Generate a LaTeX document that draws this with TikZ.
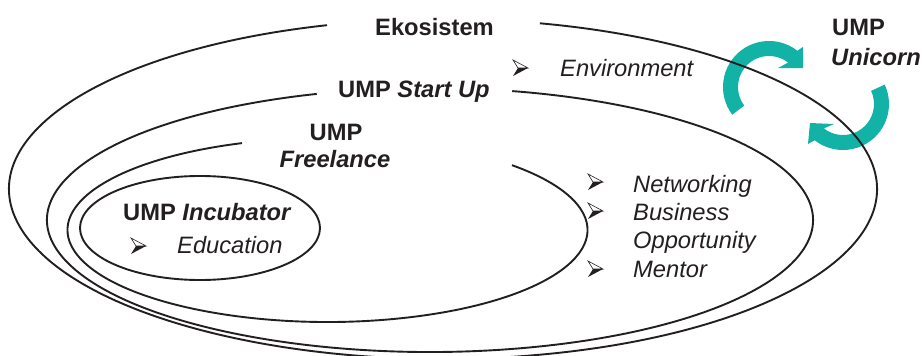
\documentclass[tikz,border=0pt]{standalone}
\usepackage{fontspec}
\setmainfont{Liberation Sans}
\definecolor{ink}{HTML}{231F20}
\definecolor{tealc}{HTML}{12B3A6}
\tikzset{
  ell/.style={draw=ink, line width=1.9pt},
  lbl/.style={inner sep=0pt, anchor=base west, font=\fontsize{23.7}{28}\selectfont, text=ink},
  bulletarrow/.pic={
    \fill[ink] (5,0) -- (15,0) -- (0,-8) -- cycle;
    \draw[ink, line width=0.6pt, line join=miter] (0,8) -- (15,0) -- (5,0) -- cycle;
  },
  cyc/.style={fill=tealc}
}
\begin{document}
\begin{tikzpicture}[x=1pt,y=1pt]
\useasboundingbox (0,0) rectangle (922,-356);

% teal cycle arrows (under the ellipse lines)
\fill[cyc] ([shift={(217:46)}]769,-87) arc[start angle=217, end angle=52, radius=46]
  -- (803,-47) -- (803,-68) -- (778,-68)
  -- ([shift={(52:31)}]769,-87) arc[start angle=52, end angle=217, radius=31] -- cycle;
\fill[cyc] ([shift={(25:46)}]843,-104) arc[start angle=25, end angle=-128, radius=46]
  -- (808,-144) -- (810,-123) -- (834,-124)
  -- ([shift={(-128:31)}]843,-104) arc[start angle=-128, end angle=25, radius=31] -- cycle;

% ellipses with gaps behind labels
\draw[ell] ([shift={(105.5:434 and 170)}]443,-189) arc[start angle=105.5, end angle=437.1, x radius=434, y radius=170];
\draw[ell] ([shift={(107.2:383 and 132)}]430,-220) arc[start angle=107.2, end angle=437.6, x radius=383, y radius=132];
\draw[ell] ([shift={(109.2:260 and 92)}]327.5,-230) arc[start angle=109.2, end angle=404.8, x radius=260, y radius=92];
\draw[ell] (200,-228) ellipse[x radius=120, y radius=52];

% labels
\node[lbl] (eko) at (375,-35) {\textbf{Ekosistem}};
\node[lbl] (startup) at (338,-97) {\textbf{UMP \textit{Start Up}}};
\node[lbl, anchor=base] (free1) at (336,-140) {\textbf{UMP}};
\node[lbl, anchor=base] (free2) at (335,-167) {\textbf{\textit{Freelance}}};
\node[lbl] (incub) at (123,-220) {\textbf{UMP \textit{Incubator}}};
\node[lbl] (edu) at (177,-253) {\textit{Education}};
\node[lbl] (env) at (560,-76) {\textit{Environment}};
\node[lbl] (net) at (633,-192) {\textit{Networking}};
\node[lbl] (bus) at (633,-220) {\textit{Business}};
\node[lbl] (opp) at (633,-248) {\textit{Opportunity}};
\node[lbl] (men) at (633,-277) {\textit{Mentor}};
\node[lbl] (uni1) at (832,-35) {\textbf{UMP}};
\node[lbl] (uni2) at (831,-65) {\textbf{\textit{Unicorn}}};

% bullets
\pic at (131,-246) {bulletarrow};
\pic at (513,-68) {bulletarrow};
\pic at (588,-182) {bulletarrow};
\pic at (588,-211) {bulletarrow};
\pic at (588,-269) {bulletarrow};
\end{tikzpicture}
\end{document}
